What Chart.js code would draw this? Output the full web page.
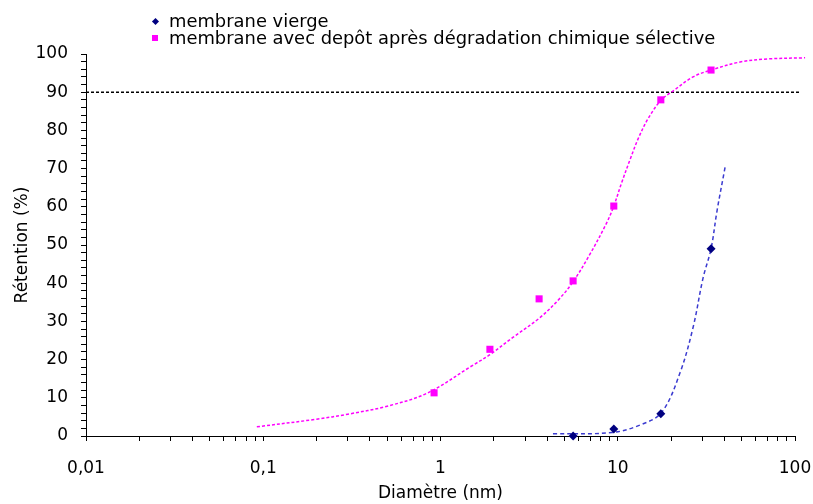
<!DOCTYPE html>
<html>
<head>
<meta charset="utf-8">
<script src="https://cdn.jsdelivr.net/npm/chart.js@4/dist/chart.umd.min.js"></script>
<style>
  html, body { margin: 0; padding: 0; background: #fff; }
  #wrap { position: relative; width: 813px; height: 504px; }
  #legende { position: absolute; left: 0; top: 12px; font-family: 'DejaVu Sans', sans-serif; font-size: 17.9px; line-height: 17px; color: #000; }
  #legende .item { position: relative; height: 17px; padding-left: 169px; white-space: nowrap; }
  #legende .mk { position: absolute; top: 0; }
</style>
</head>
<body>
<div id="wrap">
  <canvas id="graphe" width="813" height="504"></canvas>
  <div id="legende"></div>
</div>
<script>
// Données
const VIERGE_DIAM = [5.6, 9.5, 17.5, 33.6];
const VIERGE_RET = [0, 1.8, 5.8, 49];

const DEPOT_DIAM = [0.92, 1.9, 3.6, 5.6, 9.5, 17.5, 33.6];
const DEPOT_RET = [11.3, 22.7, 35.9, 40.6, 60.2, 88, 95.8];

// courbes de tendance (relevées point par point)
const DEPOT_FIT_DIAM = [0.092, 0.2, 0.3, 0.5, 0.84, 1.52, 1.9, 2.56, 3.64, 4.62, 5.6, 6.97, 8.66, 9.5, 10.5, 11.72, 13.06, 14.88, 17.6, 20.2, 26.6, 33.6, 49, 69.5, 114];
const DEPOT_FIT_RET = [2.4, 4.4, 5.7, 7.8, 11.2, 18.5, 21.3, 25.8, 31, 35.6, 40.4, 47.6, 55.8, 60.2, 66.2, 72.3, 77.9, 83.2, 88, 90.1, 94, 95.8, 97.9, 98.7, 99.0];

const VIERGE_FIT_DIAM = [4.31, 9.3, 13.4, 17.7, 22.4, 26.6, 30.3, 33.6, 36.3, 40.3];
const VIERGE_FIT_RET = [0.6, 0.9, 2.9, 6.2, 16.4, 28.4, 41.4, 49, 58.9, 70.3];

const SEUIL_DIAM = [0.01, 107];
const SEUIL_RET = [90, 90];

const X_TICKS = [0.01, 0.1, 1, 10, 100];

const NAVY = '#000080';
const MAGENTA = '#FF00FF';
const BLEU_FIT = '#3B3BD0';

const POLICE = "'DejaVu Sans', sans-serif";

function paires(xs, ys) {
  return xs.map((x, i) => ({ x, y: ys[i] }));
}

const datasets = [
  {
    label: 'membrane vierge',
    data: paires(VIERGE_DIAM, VIERGE_RET),
    pointStyle: 'rectRot',
    pointRadius: 4.5,
    backgroundColor: NAVY,
    borderColor: NAVY,
    borderWidth: 0,
    showLine: false,
    clip: false
  },
  {
    label: 'membrane avec depôt après dégradation chimique sélective',
    data: paires(DEPOT_DIAM, DEPOT_RET),
    pointStyle: 'rect',
    pointRadius: 5,
    backgroundColor: MAGENTA,
    borderColor: MAGENTA,
    borderWidth: 0,
    showLine: false,
    clip: false
  },
  {
    label: 'fit depot',
    type: 'line',
    data: paires(DEPOT_FIT_DIAM, DEPOT_FIT_RET),
    borderColor: MAGENTA,
    borderWidth: 1.5,
    borderDash: [3, 2],
    pointRadius: 0,
    fill: false,
    tension: 0.35,
    clip: false
  },
  {
    label: 'fit vierge',
    type: 'line',
    data: paires(VIERGE_FIT_DIAM, VIERGE_FIT_RET),
    borderColor: BLEU_FIT,
    borderWidth: 1.5,
    borderDash: [4, 3],
    pointRadius: 0,
    fill: false,
    tension: 0.35,
    clip: false
  },
  {
    label: 'seuil 90',
    type: 'line',
    data: paires(SEUIL_DIAM, SEUIL_RET),
    borderColor: '#000',
    borderWidth: 1.5,
    borderDash: [3, 2],
    pointRadius: 0,
    fill: false,
    clip: false
  }
];

const graphe = new Chart(document.getElementById('graphe').getContext('2d'), {
  type: 'scatter',
  data: { datasets },
  options: {
    responsive: false,
    animation: false,
    devicePixelRatio: 1,
    layout: { padding: { top: 54, right: 0, left: 0, bottom: 0 } },
    plugins: {
      legend: { display: false },
      tooltip: { enabled: false }
    },
    scales: {
      x: {
        type: 'logarithmic',
        min: 0.01,
        max: 100,
        afterFit: (s) => {
          s.height = 68;
          // marge droite comme l'original (le padding des ticks gonfle sinon la marge)
          s.paddingLeft = 0;
          s.paddingRight = 18;
        },
        afterBuildTicks: (s) => {
          // graduations 1..9 par décade
          const t = [];
          for (let d = -2; d <= 1; d++) {
            for (let k = 1; k <= 9; k++) t.push({ value: k * Math.pow(10, d) });
          }
          t.push({ value: 100 });
          s.ticks = t;
        },
        border: { display: true, color: '#000', width: 1 },
        grid: { drawOnChartArea: false, color: '#000', tickLength: 5 },
        ticks: {
          autoSkip: false,
          maxRotation: 0,
          padding: 17,
          color: '#000',
          font: { size: 17, family: POLICE },
          callback: (v) => {
            const hit = X_TICKS.find(t => Math.abs(t - v) < t * 1e-6);
            return hit !== undefined ? String(hit).replace('.', ',') : '';
          }
        },
        title: {
          display: true,
          text: 'Diamètre (nm)',
          color: '#000',
          font: { size: 17, family: POLICE },
          padding: { top: 0, bottom: 0 }
        }
      },
      y: {
        min: 0,
        max: 100,
        afterFit: (s) => { s.width = 86; },
        border: { display: true, color: '#000', width: 1 },
        grid: { drawOnChartArea: false, color: '#000', tickLength: 5 },
        ticks: {
          stepSize: 2,
          autoSkip: false,
          padding: 13,
          color: '#000',
          font: { size: 17, family: POLICE },
          callback: (v) => (v % 10 === 0 ? v : '')
        },
        title: {
          display: true,
          text: 'Rétention (%)',
          color: '#000',
          font: { size: 17, family: POLICE },
          padding: { top: 12, bottom: 0 }
        }
      }
    }
  }
});

// Légende en HTML (deux lignes, comme l'original)
const legende = document.getElementById('legende');
graphe.data.datasets.slice(0, 2).forEach((ds) => {
  const item = document.createElement('div');
  item.className = 'item';
  const mk = document.createElement('span');
  mk.className = 'mk';
  if (ds.pointStyle === 'rectRot') {
    mk.style.cssText = 'left:153px;top:7px;width:5px;height:5px;transform:rotate(45deg);background:' + ds.backgroundColor;
  } else {
    mk.style.cssText = 'left:152px;top:6px;width:6px;height:6px;background:' + ds.backgroundColor;
  }
  item.appendChild(mk);
  item.appendChild(document.createTextNode(ds.label));
  legende.appendChild(item);
});
</script>
</body>
</html>
